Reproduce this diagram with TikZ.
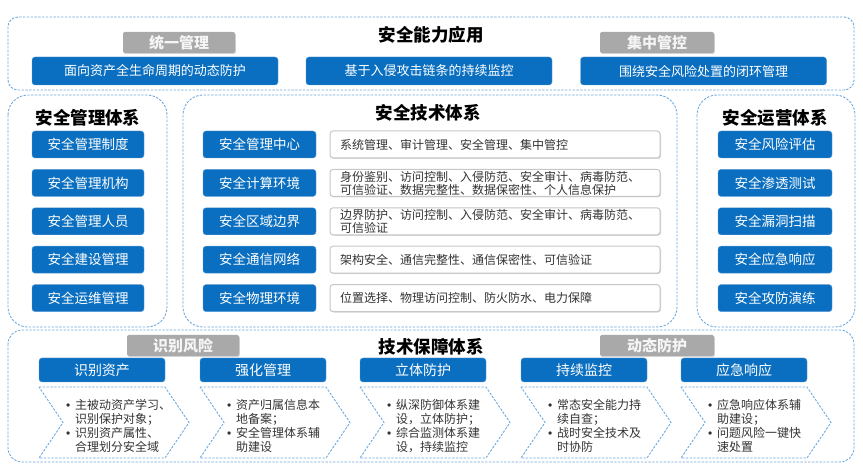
\documentclass[tikz,border=0pt]{standalone}
\usepackage{fontspec}
\setmainfont{Noto Sans CJK SC}
\newfontfamily\latinf{Liberation Sans}
\usetikzlibrary{shadows}
\definecolor{boxblue}{HTML}{0A6FC0}
\definecolor{boxedge}{HTML}{5A9AD6}
\definecolor{dashblue}{HTML}{6FA8DC}
\definecolor{tabgray}{HTML}{A9A9A9}
\definecolor{txtgray}{HTML}{333333}
\tikzset{
  frame/.style={draw=dashblue, line width=0.9pt, dash pattern=on 2.4pt off 1.4pt, rounded corners=#1},
  bluebox/.style={fill=boxblue, draw=boxedge, line width=0.4pt, rounded corners=3pt, text=white, inner sep=0pt, align=center},
  graytab/.style={fill=tabgray, rounded corners=2pt, text=white!92!gray, inner sep=0pt, minimum height=21pt,
     font=\fontsize{15}{15}\selectfont\bfseries, drop shadow={opacity=0.35, shadow xshift=0.8pt, shadow yshift=-1pt}},
  whitebox/.style={fill=white, draw=gray!45, line width=1pt, rounded corners=3pt, inner xsep=10pt, inner ysep=0pt,
     minimum width=330pt, minimum height=27pt, text width=310pt, align=left, text=txtgray,
     font=\fontsize{12}{13}\selectfont, drop shadow={opacity=0.3, shadow xshift=1pt, shadow yshift=-1pt}},
  title/.style={font=\fontsize{17.5}{18}\selectfont\bfseries, inner sep=0pt},
  chev/.style={draw=dashblue, line width=0.9pt, dash pattern=on 2.4pt off 1.4pt},
  bullets/.style={anchor=west, inner sep=0pt, align=left, text=txtgray, font=\fontsize{12}{14}\selectfont}
}
\newcommand{\bl}{\makebox[9pt][l]{{\latinf •}}}
\newcommand{\ind}{\hspace*{9pt}}
\begin{document}
\begin{tikzpicture}[x=1pt,y=-1pt]
\useasboundingbox (0,0) rectangle (863,470);
% ---------- top section ----------
\draw[frame=10pt] (8,17) rectangle (854,90);
\node[title] (ttop) at (431,35) {安全能力应用};
\node[graytab, minimum width=112pt] (tabA) at (179,42.5) {统一管理};
\node[graytab, minimum width=114pt] (tabB) at (657,42.5) {集中管控};
\tikzset{topb/.style={bluebox, minimum width=246pt, minimum height=28pt, font=\fontsize{13}{13}\selectfont}}
\node[topb] (top1) at (155,71) {面向资产全生命周期的动态防护};
\node[topb] (top2) at (429,71) {基于入侵攻击链条的持续监控};
\node[topb] (top3) at (703.5,71) {围绕安全风险处置的闭环管理};
% ---------- middle sections ----------
\draw[frame=20pt] (8,95) rectangle (167,327);
\draw[frame=20pt] (183,95) rectangle (677,327);
\draw[frame=20pt] (697,95) rectangle (855,327);
\node[title] (tleft) at (88,118) {安全管理体系};
\node[title] (tmid) at (428,113) {安全技术体系};
\node[title] (tright) at (775,118) {安全运营体系};
\tikzset{sideb/.style={bluebox, minimum width=112pt, minimum height=27pt, font=\fontsize{13.5}{13.5}\selectfont}}
\foreach \t [count=\i] in {安全管理制度,安全管理机构,安全管理人员,安全建设管理,安全运维管理}{
  \pgfmathsetmacro{\yy}{144.5+38.4*(\i-1)}
  \node[sideb] (L\i) at (88,\yy) {\t};
}
\foreach \t [count=\i] in {安全风险评估,安全渗透测试,安全漏洞扫描,安全应急响应,安全攻防演练}{
  \pgfmathsetmacro{\yy}{144.5+38.4*(\i-1)}
  \node[sideb, minimum width=114pt] (R\i) at (775,\yy) {\t};
}
\foreach \t [count=\i] in {安全管理中心,安全计算环境,安全区域边界,安全通信网络,安全物理环境}{
  \pgfmathsetmacro{\yy}{144.5+38.4*(\i-1)}
  \node[sideb, minimum width=113pt] (M\i) at (259.5,\yy) {\t};
}
\node[whitebox] (W1) at (495,144.5) {系统管理、审计管理、安全管理、集中管控};
\node[whitebox] (W2) at (495,182.9) {身份鉴别、访问控制、入侵防范、安全审计、病毒防范、\\可信验证、数据完整性、数据保密性、个人信息保护};
\node[whitebox] (W3) at (495,221.3) {边界防护、访问控制、入侵防范、安全审计、病毒防范、\\可信验证};
\node[whitebox] (W4) at (495,259.7) {架构安全、通信完整性、通信保密性、可信验证};
\node[whitebox] (W5) at (495,298.1) {位置选择、物理访问控制、防火防水、电力保障};
% ---------- bottom section ----------
\draw[frame=14pt] (8,330) rectangle (854,462);
\node[title] (tbot) at (431,347) {技术保障体系};
\node[graytab, minimum width=112pt] (tabC) at (183,345.5) {识别风险};
\node[graytab, minimum width=114pt] (tabD) at (657,345.5) {动态防护};
\tikzset{botb/.style={bluebox, minimum width=126pt, minimum height=24pt, font=\fontsize{14}{14}\selectfont}}
\foreach \t/\x [count=\i] in {识别资产/39,强化管理/200,立体防护/360,持续监控/521,应急响应/681}{
  \node[botb] (B\i) at (\x+63,370) {\t};
  \draw[chev] (\x,387) -- (\x+126,387) -- (\x+150,422.5) -- (\x+126,458) -- (\x,458) -- (\x+24,422.5) -- cycle;
}
\node[bullets] (T1) at (39+27,426) {\bl 主被动资产学习、\\\ind 识别保护对象；\\\bl 识别资产属性、\\\ind 合理划分安全域};
\node[bullets] (T2) at (200+27,426) {\bl 资产归属信息本\\\ind 地备案；\\\bl 安全管理体系辅\\\ind 助建设};
\node[bullets] (T3) at (360+27,426) {\bl 纵深防御体系建\\\ind 设，立体防护；\\\bl 综合监测体系建\\\ind 设，持续监控};
\node[bullets] (T4) at (521+27,426) {\bl 常态安全能力持\\\ind 续自查；\\\bl 战时安全技术及\\\ind 时协防};
\node[bullets] (T5) at (681+27,426) {\bl 应急响应体系辅\\\ind 助建设；\\\bl 问题风险一键快\\\ind 速处置};
\end{tikzpicture}
\end{document}
